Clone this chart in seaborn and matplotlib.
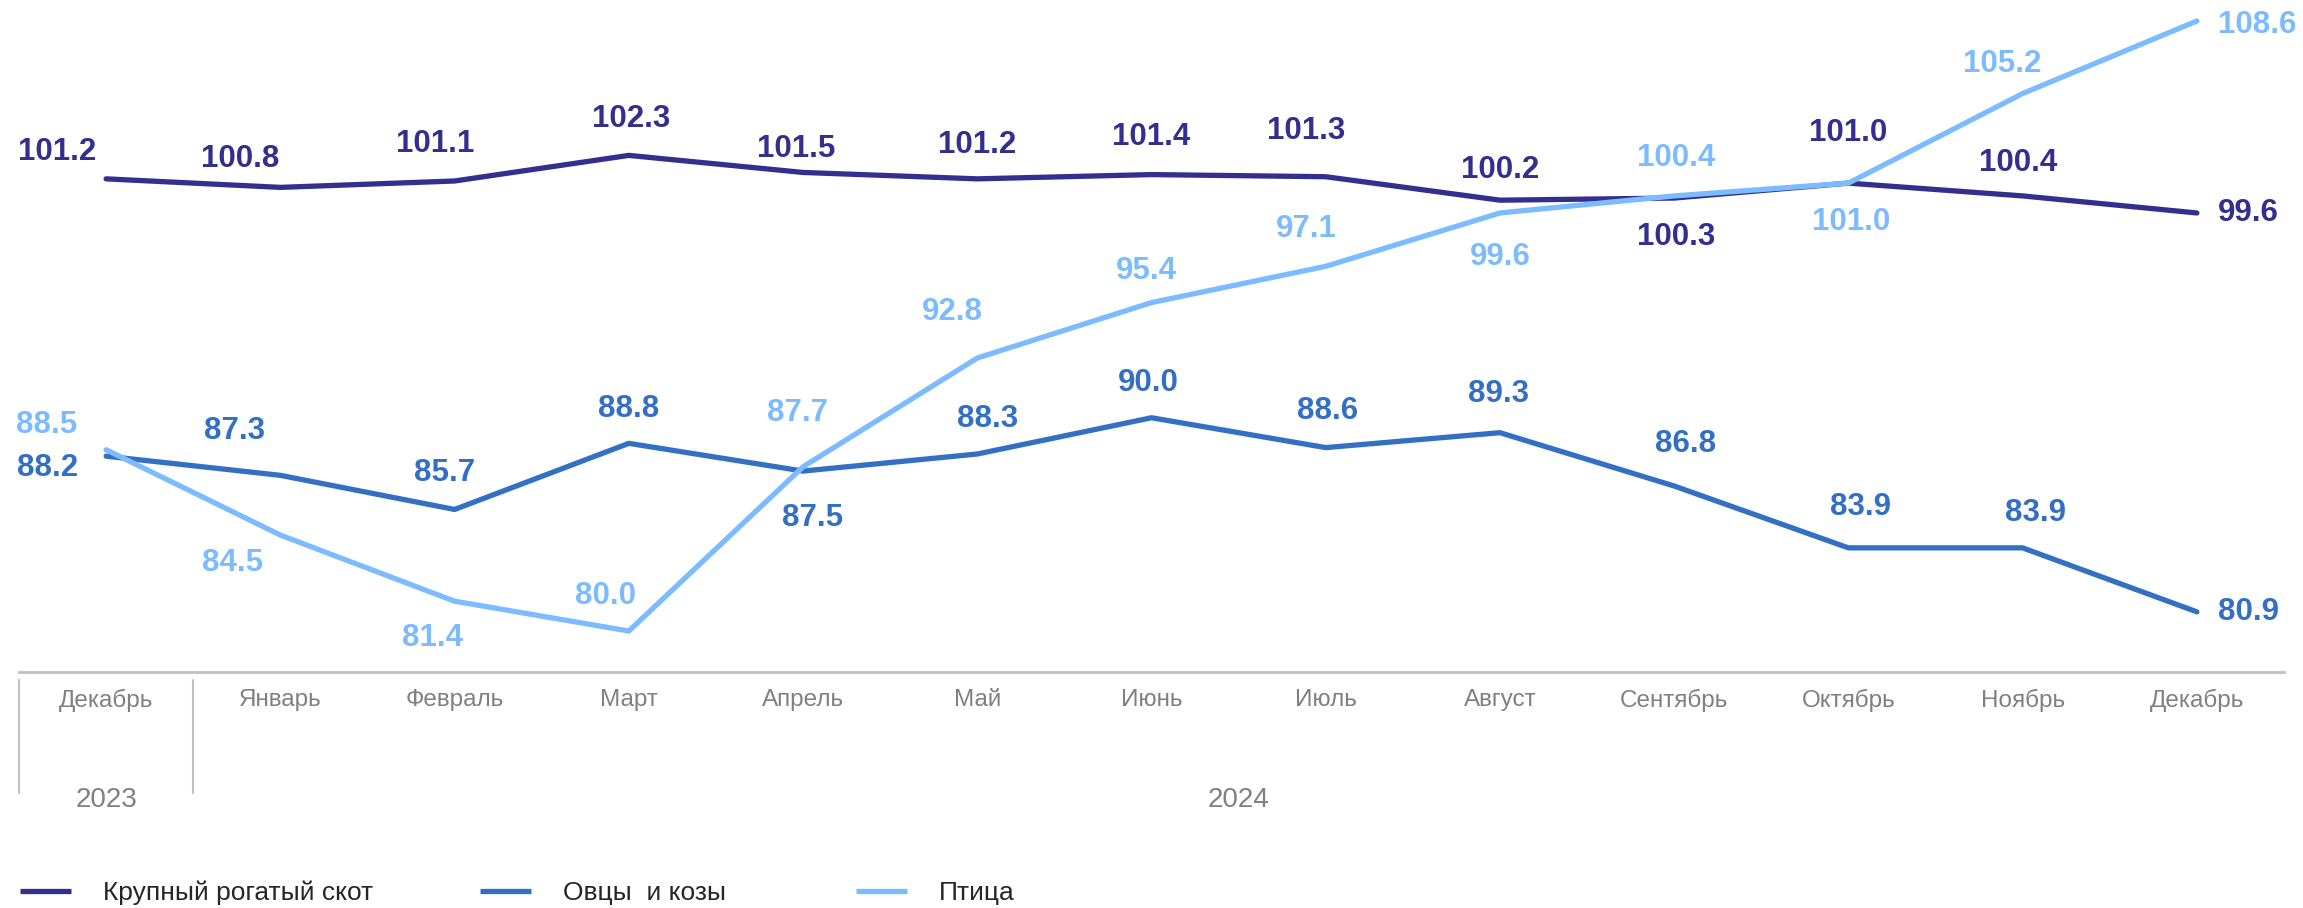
import matplotlib
matplotlib.use("Agg")
import matplotlib.pyplot as plt
import seaborn as sns
import pandas as pd
import numpy as np

# ---- data ----
months = ["Декабрь", "Январь", "Февраль", "Март", "Апрель", "Май", "Июнь",
          "Июль", "Август", "Сентябрь", "Октябрь", "Ноябрь", "Декабрь"]
years = ["2023", "2024"]
series_names = ["Крупный рогатый скот", "Овцы  и козы", "Птица"]
cattle = [101.2, 100.8, 101.1, 102.3, 101.5, 101.2, 101.4, 101.3, 100.2, 100.3, 101.0, 100.4, 99.6]
sheep = [88.2, 87.3, 85.7, 88.8, 87.5, 88.3, 90.0, 88.6, 89.3, 86.8, 83.9, 83.9, 80.9]
poultry = [88.5, 84.5, 81.4, 80.0, 87.7, 92.8, 95.4, 97.1, 99.6, 100.4, 101.0, 105.2, 108.6]

# ---- label placement (offsets in points) ----
off_cattle = [(-35, 19), (-29, 20.5), (-14, 26.5), (2, 26), (-5, 17), (0, 24.5), (0, 27),
              (-14, 33), (0, 21.5), (1.5, -28), (0, 36), (-3.5, 24), (15, 0)]
off_sheep = [(-42.5, -8.6), (-33, 32), (-7, 26.5), (0, 25), (6.5, -34), (7.5, 25), (-2, 25),
             (1, 26.5), (-1, 27.5), (8.5, 30.5), (8.5, 29.5), (9.5, 25), (15, 0)]
off_poultry = [(-42.5, 18), (-34.5, -20), (-16, -26.5), (-17, 25), (-4.3, 39), (-18, 33), (-4, 23),
               (-14, 26.5), (0, -31.5), (1.5, 27.5), (2, -28), (-14.4, 21.6), (15, -3)]

colors = ["#332F8F", "#3370C4", "#7DBBFF"]

sns.set_theme(style="white")
plt.rcParams["font.family"] = ["Liberation Sans", "DejaVu Sans"]

W, H = 2303, 908
fig = plt.figure(figsize=(W / 100, H / 100), dpi=100)
ax = fig.add_axes([19 / W, 1 - 672 / H, (2284 - 19) / W, 672 / H])

x = np.arange(len(months))
df = pd.DataFrame({
    "x": np.concatenate([x, x, x]),
    "value": cattle + sheep + poultry,
    "series": np.repeat(series_names, len(months)),
})
sns.lineplot(data=df, x="x", y="value", hue="series", palette=colors,
             hue_order=series_names, sort=False, legend=False, ax=ax,
             linewidth=3.8, solid_joinstyle="round", solid_capstyle="round")

ax.set_xlim(-0.5, 12.5)
ax.set_ylim(78.08, 109.585)
ax.set_xlabel("")
ax.set_ylabel("")
ax.set_yticks([])
ax.set_xticks(x)
ax.set_xticklabels(months, fontsize=17.5, color="#808080")
ax.tick_params(axis="x", length=0, pad=12)
for s in ["top", "left", "right"]:
    ax.spines[s].set_visible(False)
ax.spines["bottom"].set_color("#BFBFBF")
ax.spines["bottom"].set_linewidth(2.0)

# data labels
for vals, offs, col in zip([cattle, sheep, poultry], [off_cattle, off_sheep, off_poultry], colors):
    for i, (v, (dx, dy)) in enumerate(zip(vals, offs)):
        ha = "left" if i == len(vals) - 1 else "center"
        ax.annotate(f"{v:.1f}", (x[i], v), xytext=(dx, dy), textcoords="offset points",
                    ha=ha, va="center", fontsize=22.5, fontweight="bold", color=col,
                    annotation_clip=False)

# year separators and labels
tr = ax.get_xaxis_transform()
y0 = (672 - 680) / 672
y1 = (672 - 793) / 672
for xs in [-0.5, 0.5]:
    ax.plot([xs, xs], [y0, y1], transform=tr, color="#C0C0C0", lw=1.5, clip_on=False)
yl = (672 - 800) / 672
ax.text(0, yl, years[0], transform=tr, ha="center", va="center", fontsize=20, color="#808080")
ax.text(6.5, yl, years[1], transform=tr, ha="center", va="center", fontsize=20, color="#808080")

# legend: three entries at fixed positions
lines = ax.get_lines()[:3]
leg_x = [20, 480, 856]
for ln, name, lx in zip(lines, series_names, leg_x):
    lg = fig.legend([ln], [name], loc="center left", bbox_to_anchor=(lx / W, 1 - 893 / H),
                    frameon=False, fontsize=19, handlelength=1.93, handletextpad=1.21,
                    borderpad=0, borderaxespad=0)
    for t in lg.get_texts():
        t.set_color("#262626")
    for h in lg.legend_handles:
        h.set_solid_capstyle("butt")

fig.savefig("out.png", dpi=100)
